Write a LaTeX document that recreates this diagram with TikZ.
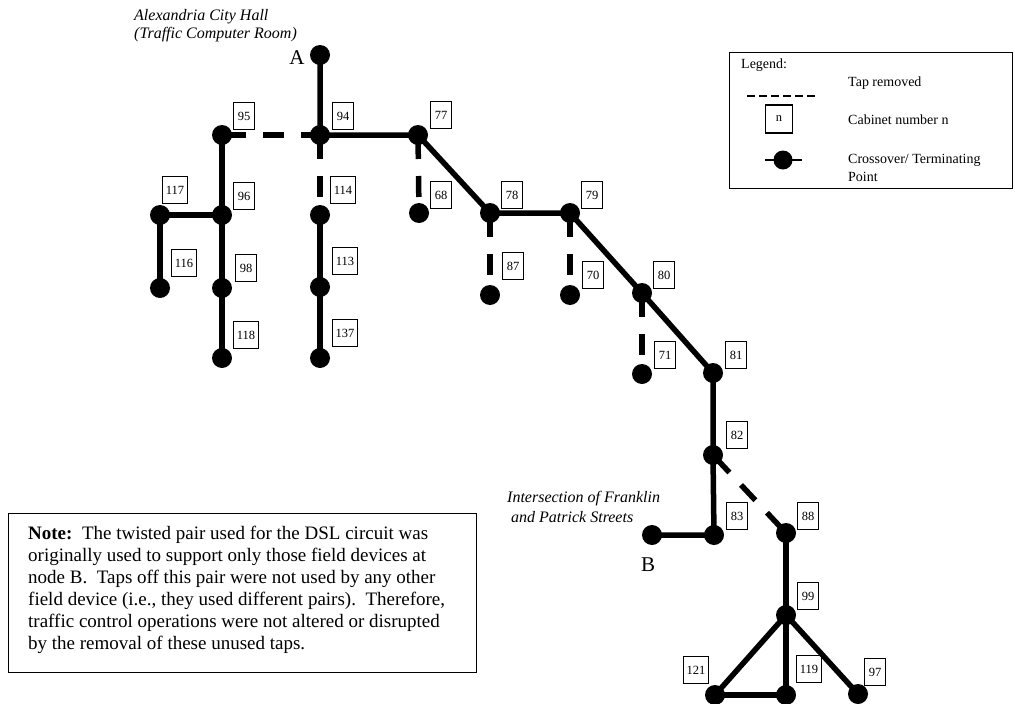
\documentclass[tikz,border=0pt]{standalone}
\usepackage{fontspec}
\setmainfont{Liberation Serif}
\begin{document}
\begin{tikzpicture}[x=1pt,y=-1pt,
  wire/.style={line width=5.5pt},
  tap/.style={line width=5.5pt, dash pattern=on 24pt off 17pt on 21pt off 17pt},
  dot/.style={circle, fill=black, inner sep=0pt, minimum size=20pt},
  cab/.style={draw, line width=1.1pt, fill=white, inner xsep=3pt, inner ysep=0pt,
              minimum width=21pt, minimum height=27pt, font=\fontsize{12.5}{14}\selectfont},
  lbl/.style={font=\fontsize{16}{18}\selectfont\itshape, align=left, inner sep=0pt},
  big/.style={font=\fontsize{21}{24}\selectfont, inner sep=0pt},
  leg/.style={font=\fontsize{14}{18}\selectfont, inner sep=0pt, align=left}]
\useasboundingbox (0,0) rectangle (1015,704);

% cabinet number boxes
\node[cab] (b95) at (244,116) {95};
\node[cab] (b94) at (343,116) {94};
\node[cab] (b77) at (441,115) {77};
\node[cab] (b117) at (175,190) {117};
\node[cab] (b96) at (244,196) {96};
\node[cab] (b114) at (343,190) {114};
\node[cab] (b68) at (441,195) {68};
\node[cab] (b116) at (184,263) {116};
\node[cab] (b98) at (246,268) {98};
\node[cab] (b118) at (246,335) {118};
\node[cab] (b113) at (345,261) {113};
\node[cab] (b137) at (345,333) {137};
\node[cab] (b78) at (512,195) {78};
\node[cab] (b79) at (592,195) {79};
\node[cab] (b87) at (513,266) {87};
\node[cab] (b70) at (593,275) {70};
\node[cab] (b80) at (664,275) {80};
\node[cab] (b71) at (665,355) {71};
\node[cab] (b81) at (736,355) {81};
\node[cab] (b82) at (737,435) {82};
\node[cab] (b83) at (737,516) {83};
\node[cab] (b88) at (808,516) {88};
\node[cab] (b99) at (808,596) {99};
\node[cab] (b121) at (696,670) {121};
\node[cab] (b119) at (809,669) {119};
\node[cab] (b97) at (875,672) {97};

% crossover / terminating points
\node[dot] (dA) at (320,55) {};
\node[dot] (d94) at (320,135) {};
\node[dot] (d95) at (222,135) {};
\node[dot] (d77) at (418,135) {};
\node[dot] (d96) at (222,215) {};
\node[dot] (d117) at (160,215) {};
\node[dot] (d116) at (160,288) {};
\node[dot] (d98) at (222,288) {};
\node[dot] (d118) at (222,358) {};
\node[dot] (d114) at (320,215) {};
\node[dot] (d113) at (320,287) {};
\node[dot] (d137) at (320,358) {};
\node[dot] (d68) at (419,213) {};
\node[dot] (d78) at (490,213) {};
\node[dot] (d79) at (570,213) {};
\node[dot] (d87) at (490,295) {};
\node[dot] (d70) at (570,295) {};
\node[dot] (d80) at (642,293) {};
\node[dot] (d71) at (642,374) {};
\node[dot] (d81) at (713,373) {};
\node[dot] (d82) at (713,455) {};
\node[dot] (d83) at (714,535) {};
\node[dot] (dB) at (652,535) {};
\node[dot] (d88) at (786,533) {};
\node[dot] (d99) at (786,615) {};
\node[dot] (d121) at (715,695) {};
\node[dot] (d119) at (786,695) {};
\node[dot] (d97) at (858,694) {};

% solid pair
\draw[wire] (dA.center) -- (d94.center) -- (d77.center) -- (d78.center) -- (d79.center)
  -- (d80.center) -- (d81.center) -- (d82.center) -- (d83.center) -- (dB.center);
\draw[wire] (d95.center) -- (d96.center) -- (d98.center) -- (d118.center);
\draw[wire] (d116.center) -- (d117.center) -- (d96.center);
\draw[wire] (d114.center) -- (d113.center) -- (d137.center);
\draw[wire] (d88.center) -- (d99.center) -- (d119.center);
\draw[wire] (d121.center) -- (d99.center) -- (d97.center);
\draw[wire] (d121.center) -- (d119.center);

% removed taps
\draw[tap] (d95.center) -- (d94.center);
\draw[tap] (d94.center) -- (d114.center);
\draw[tap] (d77.center) -- (d68.center);
\draw[tap] (d78.center) -- (d87.center);
\draw[tap] (d79.center) -- (d70.center);
\draw[tap] (d80.center) -- (d71.center);
\draw[tap] (d82.center) -- (d88.center);

% labels
\node[big] (labA) at (297,58) {A};
\node[big] (labB) at (648,565) {B};
\node[lbl, anchor=north west] (cityhall) at (134,9.5) {Alexandria City Hall\\(Traffic Computer Room)};
\node[lbl, anchor=north west, font=\fontsize{16}{20}\selectfont\itshape] (franklin) at (507,491) {Intersection of Franklin\\\hspace*{4pt}and Patrick Streets};

% legend
\node[draw, line width=1.1pt, minimum width=283pt, minimum height=136pt, anchor=north west, inner sep=0pt] (legend) at (729,52) {};
\node[leg, anchor=west] (legtitle) at (741,65) {Legend:};
\node[leg, anchor=west] (legtap) at (848,83) {Tap removed};
\coordinate (ld1) at (747,96);
\coordinate (ld2) at (817,96);
\draw[line width=1.5pt, dash pattern=on 8pt off 4pt] (ld1) -- (ld2);
\node[cab, minimum width=27pt, minimum height=28pt] (legbox) at (779,119) {n};
\node[leg, anchor=west] (legcab) at (848,120) {Cabinet number n};
\coordinate (ll1) at (765,160);
\coordinate (ll2) at (802,160);
\draw[line width=1.5pt] (ll1) -- (ll2);
\node[dot, minimum size=19pt] (legdot) at (783,160) {};
\node[leg, anchor=north west] (legcross) at (848,154) {Crossover/ Terminating\\Point};

% note
\node[draw, line width=1.1pt, minimum width=468pt, minimum height=159pt, anchor=north west, inner sep=0pt] (notebox) at (8,513) {};
\node[anchor=north west, align=left, inner sep=0pt, font=\fontsize{19}{22}\selectfont] (notetext) at (28,526)
 {\textbf{Note:}\ \ The twisted pair used for the DSL circuit was\\
  originally used to support only those field devices at\\
  node B.\ \ Taps off this pair were not used by any other\\
  field device (i.e., they used different pairs).\ \ Therefore,\\
  traffic control operations were not altered or disrupted\\
  by the removal of these unused taps.};
\end{tikzpicture}
\end{document}
